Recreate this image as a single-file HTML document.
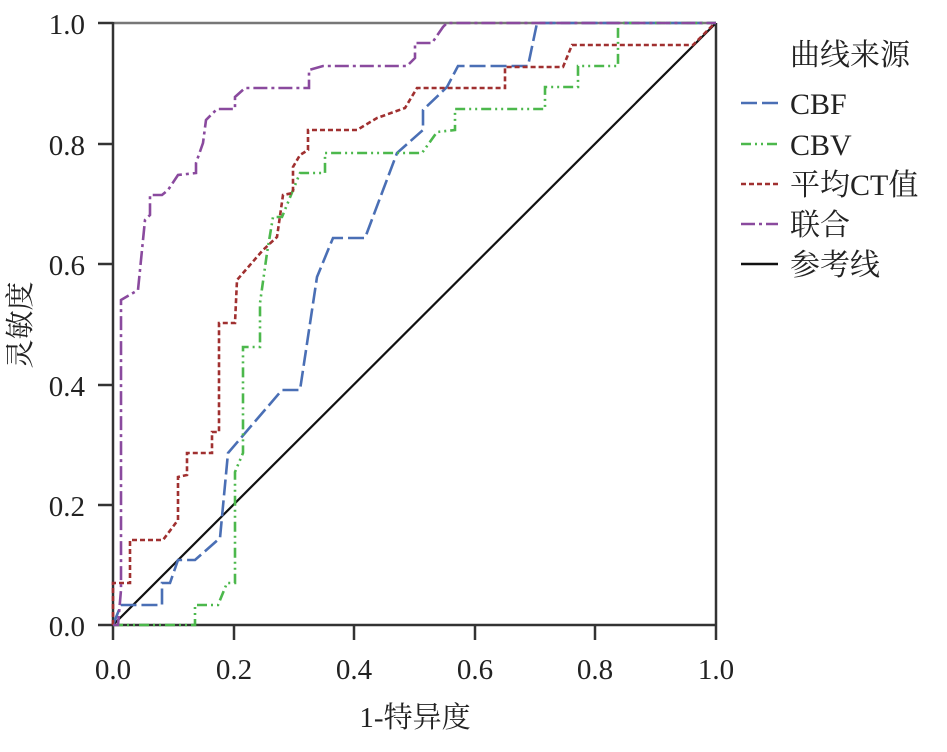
<!DOCTYPE html>
<html><head><meta charset="utf-8"><style>
body{margin:0;background:#fff}
svg text{font-family:"Liberation Serif","Noto Serif CJK SC",serif;fill:#222}
</style></head><body>
<svg width="947" height="747" viewBox="0 0 947 747" xmlns="http://www.w3.org/2000/svg">
<rect width="947" height="747" fill="#fff"/>
<g stroke="#333" stroke-width="2.5" fill="none">
<line x1="113" y1="23" x2="716" y2="23" stroke="#777"/>
<line x1="716" y1="23" x2="716" y2="625"/>
<line x1="113" y1="22" x2="113" y2="626"/>
<line x1="112" y1="625" x2="716" y2="625"/>
<line x1="98" y1="23" x2="113" y2="23"/><line x1="98" y1="144" x2="113" y2="144"/><line x1="98" y1="264" x2="113" y2="264"/><line x1="98" y1="385" x2="113" y2="385"/><line x1="98" y1="505" x2="113" y2="505"/><line x1="98" y1="625" x2="113" y2="625"/>
<line x1="113" y1="625" x2="113" y2="640"/><line x1="234" y1="625" x2="234" y2="640"/><line x1="354" y1="625" x2="354" y2="640"/><line x1="475" y1="625" x2="475" y2="640"/><line x1="595" y1="625" x2="595" y2="640"/><line x1="716" y1="625" x2="716" y2="640"/>
</g>
<g font-size="29" text-anchor="end">
<text x="85" y="34">1.0</text><text x="85" y="155">0.8</text><text x="85" y="275">0.6</text><text x="85" y="396">0.4</text><text x="85" y="516">0.2</text><text x="85" y="636">0.0</text>
</g>
<g font-size="29" text-anchor="middle">
<text x="113" y="679">0.0</text><text x="234" y="679">0.2</text><text x="354" y="679">0.4</text><text x="475" y="679">0.6</text><text x="595" y="679">0.8</text><text x="716" y="679">1.0</text>
<text x="415" y="727">1-特异度</text>
<text transform="translate(30,325) rotate(-90)">灵敏度</text>
</g>
<line x1="113" y1="625" x2="716" y2="23" stroke="#111" stroke-width="2.2"/>
<g fill="none" stroke-width="2.6">
<path stroke="#4a6fb5" stroke-dasharray="16,5" d="M113,625 L121,605 L162,605 L162,583 L170,583 L178,560 L195,560 L220,538 L228,453 L282,390 L300,390 L317,277 L333,238 L365,238 L397,153 L423,130 L423,110 L447,87 L458,66 L528,66 L537,23 L716,23"/>
<path stroke="#4cb84c" stroke-dasharray="10,4,2,4,2,4" d="M113,625 L195,625 L195,605 L218,605 L227,583 L235,583 L235,472 L243,453 L243,347 L260,347 L260,303 L267,253 L273,217 L282,217 L300,173 L325,173 L325,153 L422,153 L437,132 L455,130 L455,109 L545,109 L545,87 L578,87 L578,66 L618,66 L618,23 L716,23"/>
<path stroke="#a03030" stroke-dasharray="5,3" d="M113,625 L113,583 L130,583 L130,540 L163,540 L178,520 L178,477 L187,475 L187,453 L212,453 L212,432 L219,432 L219,323 L235,323 L237,280 L263,250 L277,237 L283,195 L293,193 L293,167 L300,155 L308,150 L308,130 L357,130 L377,118 L405,108 L417,88 L505,88 L505,67 L563,67 L572,45 L693,45 L715,23"/>
<path stroke="#8a4a9e" stroke-dasharray="14,4,3,4" d="M113,625 L118,625 L121,590 L121,300 L138,290 L140,270 L145,220 L150,215 L150,195 L162,195 L168,190 L178,175 L196,173 L196,163 L203,143 L206,120 L217,109 L235,109 L235,97 L245,88 L309,88 L309,70 L323,66 L407,66 L415,58 L415,43 L432,43 L443,27 L447,23 L716,23"/>
</g>
<g font-size="30">
<text x="790" y="65">曲线来源</text>
<text x="790" y="114">CBF</text>
<text x="790" y="155">CBV</text>
<text x="790" y="195">平均CT值</text>
<text x="790" y="235">联合</text>
<text x="790" y="275">参考线</text>
</g>
<g fill="none" stroke-width="2.6">
<line x1="741" y1="103" x2="778" y2="103" stroke="#4a6fb5" stroke-dasharray="16,5"/>
<line x1="741" y1="144" x2="778" y2="144" stroke="#4cb84c" stroke-dasharray="10,4,2,4,2,4"/>
<line x1="741" y1="184" x2="778" y2="184" stroke="#a03030" stroke-dasharray="5,3"/>
<line x1="741" y1="224" x2="778" y2="224" stroke="#8a4a9e" stroke-dasharray="14,4,3,4"/>
<line x1="741" y1="264" x2="778" y2="264" stroke="#111"/>
</g>
</svg>
</body></html>
